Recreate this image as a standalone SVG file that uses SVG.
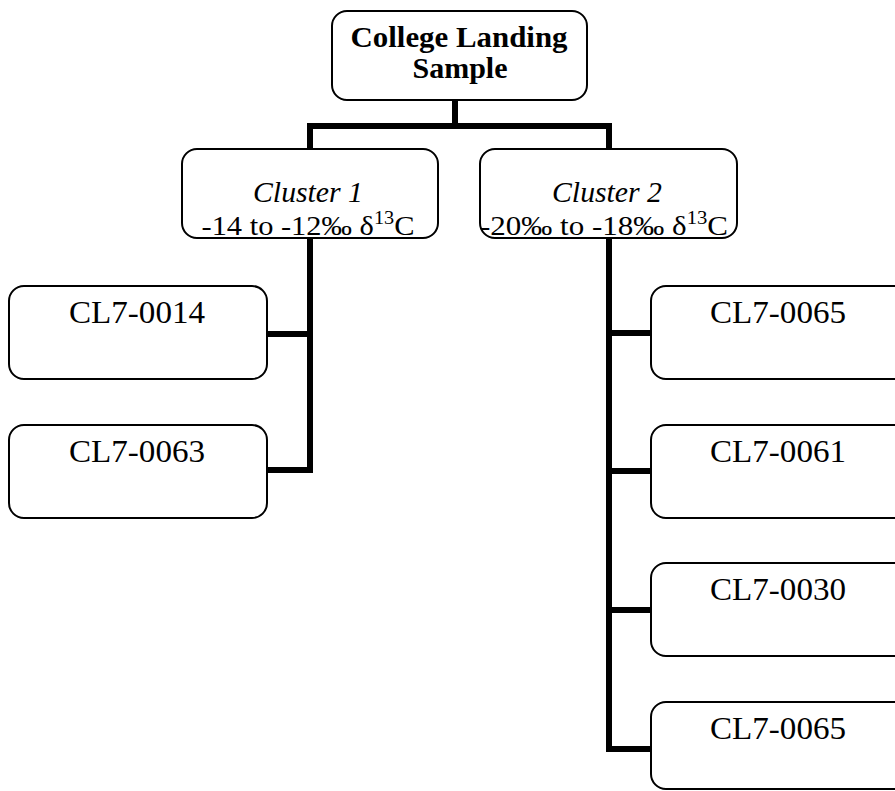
<svg xmlns="http://www.w3.org/2000/svg" width="895" height="791" viewBox="0 0 895 791">
<style>
.box{fill:#fff;stroke:#000;stroke-width:2}
.conn{fill:none;stroke:#000;stroke-width:6;stroke-linejoin:miter;stroke-linecap:square}
.t{font-family:"Liberation Serif","Times New Roman",serif;fill:#000;text-anchor:middle}
.b{font-weight:bold;font-size:30px}
.c{font-size:27px}
.i{font-style:italic;font-size:29px}
.s{font-size:32px}
</style>
<rect width="895" height="791" fill="#fff"/>
<g id="connectors">
<path class="conn" d="M455,100 V126"/>
<path class="conn" d="M310,149 V126 H609 V149"/>
<path class="conn" d="M310,238 V470 H267"/>
<path class="conn" d="M269,334 H310"/>
<path class="conn" d="M609,238 V749 H651"/>
<path class="conn" d="M609,333 H651"/>
<path class="conn" d="M609,471 H651"/>
<path class="conn" d="M609,610 H651"/>
</g>
<g id="root">
<rect class="box" x="332" y="11" width="255" height="89" rx="15"/>
<text class="t b" x="459" y="47" textLength="217" lengthAdjust="spacingAndGlyphs">College Landing</text>
<text class="t b" x="460" y="78">Sample</text>
</g>
<g id="cluster1">
<rect class="box" x="182" y="149" width="256" height="89" rx="15"/>
<text class="t i" x="308" y="202" textLength="110" lengthAdjust="spacingAndGlyphs">Cluster 1</text>
<text class="t c" x="308" y="235" textLength="213" lengthAdjust="spacingAndGlyphs">-14 to -12‰ δ<tspan font-size="18" dy="-11">13</tspan><tspan dy="11">C</tspan></text>
</g>
<g id="cluster2">
<rect class="box" x="480" y="149" width="257" height="89" rx="15"/>
<text class="t i" x="607" y="202" textLength="110" lengthAdjust="spacingAndGlyphs">Cluster 2</text>
<text class="t c" x="604" y="235" textLength="248" lengthAdjust="spacingAndGlyphs">-20‰ to -18‰ δ<tspan font-size="18" dy="-11">13</tspan><tspan dy="11">C</tspan></text>
</g>
<g id="n0014">
<rect class="box" x="9" y="286" width="258" height="93" rx="15"/>
<text class="t s" x="137" y="323" textLength="136" lengthAdjust="spacingAndGlyphs">CL7-0014</text>
</g>
<g id="n0063">
<rect class="box" x="9" y="425" width="258" height="93" rx="15"/>
<text class="t s" x="137" y="462" textLength="136" lengthAdjust="spacingAndGlyphs">CL7-0063</text>
</g>
<g id="n0065a">
<rect class="box" x="651" y="286" width="258" height="93" rx="15"/>
<text class="t s" x="778" y="323" textLength="136" lengthAdjust="spacingAndGlyphs">CL7-0065</text>
</g>
<g id="n0061">
<rect class="box" x="651" y="425" width="258" height="93" rx="15"/>
<text class="t s" x="778" y="462" textLength="136" lengthAdjust="spacingAndGlyphs">CL7-0061</text>
</g>
<g id="n0030">
<rect class="box" x="651" y="563" width="258" height="93" rx="15"/>
<text class="t s" x="778" y="600" textLength="136" lengthAdjust="spacingAndGlyphs">CL7-0030</text>
</g>
<g id="n0065b">
<rect class="box" x="651" y="702" width="258" height="87" rx="15"/>
<text class="t s" x="778" y="739" textLength="136" lengthAdjust="spacingAndGlyphs">CL7-0065</text>
</g>
</svg>
